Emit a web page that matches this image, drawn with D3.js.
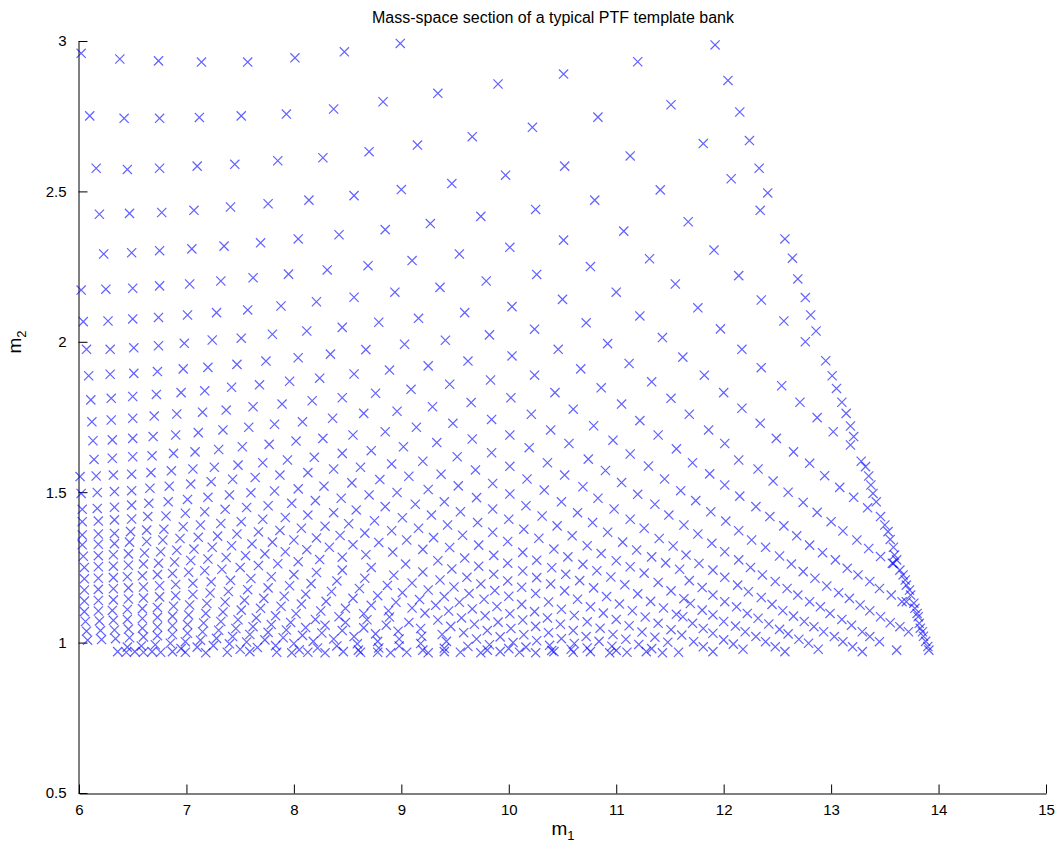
<!DOCTYPE html>
<html>
<head>
<meta charset="utf-8">
<script src="https://cdn.jsdelivr.net/npm/d3@7"></script>
<style>
  html, body { margin: 0; padding: 0; background: #ffffff; }
  svg text { font-family: "Liberation Sans", Arial, sans-serif; fill: #000; }
</style>
</head>
<body>
<svg id="chart" width="1056" height="852"></svg>
<script>
// Template bank in (m1, m2) mass space; each row is one line of the placement lattice.
const titleText = "Mass-space section of a typical PTF template bank";
const xTickValues = [6, 7, 8, 9, 10, 11, 12, 13, 14, 15];
const yTickValues = [0.5, 1, 1.5, 2, 2.5, 3];

// Rows that start at the left edge (m1 = 6), from the top down.
const upperRows = [
  [[6.02,2.959],[6.38,2.940],[6.74,2.934],[7.14,2.930],[7.57,2.930],[8.01,2.944],[8.47,2.964],[8.99,2.992]],
  [[6.10,2.751],[6.42,2.743],[6.75,2.743],[7.12,2.746],[7.51,2.751],[7.93,2.757],[8.37,2.774],[8.83,2.798],[9.34,2.826],[9.90,2.857],[10.51,2.890],[11.20,2.931],[11.92,2.987]],
  [[6.16,2.577],[6.45,2.573],[6.75,2.577],[7.10,2.584],[7.45,2.590],[7.85,2.602],[8.27,2.612],[8.70,2.632],[9.15,2.654],[9.66,2.682],[10.22,2.713],[10.83,2.747],[11.51,2.788],[12.04,2.869]],
  [[6.19,2.424],[6.47,2.427],[6.77,2.430],[7.07,2.437],[7.41,2.448],[7.76,2.459],[8.14,2.471],[8.56,2.486],[9.00,2.506],[9.47,2.526],[9.97,2.554],[10.52,2.584],[11.13,2.618],[11.81,2.659]],
  [[6.23,2.292],[6.49,2.296],[6.75,2.303],[7.05,2.309],[7.35,2.318],[7.69,2.329],[8.04,2.342],[8.42,2.356],[8.85,2.373],[9.27,2.393],[9.74,2.417],[10.25,2.440],[10.80,2.471],[11.41,2.505],[12.07,2.542]],
  [[6.02,2.172],[6.25,2.175],[6.50,2.178],[6.75,2.186],[7.03,2.192],[7.32,2.202],[7.62,2.213],[7.95,2.225],[8.31,2.239],[8.69,2.253],[9.10,2.270],[9.54,2.292],[10.01,2.314],[10.51,2.338],[11.07,2.368],[11.67,2.399],[12.34,2.437]],
  [[6.04,2.067],[6.27,2.069],[6.50,2.076],[6.74,2.081],[7.01,2.089],[7.28,2.097],[7.57,2.106],[7.88,2.119],[8.21,2.133],[8.56,2.148],[8.94,2.165],[9.36,2.181],[9.79,2.202],[10.26,2.224],[10.76,2.250],[11.31,2.276],[11.91,2.305]],
  [[6.07,1.975],[6.29,1.975],[6.51,1.980],[6.74,1.987],[6.98,1.995],[7.24,2.006],[7.51,2.012],[7.80,2.025],[8.12,2.036],[8.45,2.048],[8.79,2.065],[9.16,2.078],[9.59,2.097],[10.03,2.117],[10.50,2.141],[11.00,2.165],[11.55,2.192],[12.14,2.220]],
  [[6.09,1.887],[6.29,1.892],[6.51,1.895],[6.73,1.901],[6.97,1.910],[7.20,1.915],[7.47,1.925],[7.74,1.936],[8.04,1.947],[8.34,1.959],[8.67,1.974],[9.03,1.992],[9.41,2.005],[9.82,2.023],[10.24,2.042],[10.72,2.063],[11.22,2.086],[11.76,2.113],[12.35,2.139]],
  [[6.11,1.807],[6.30,1.812],[6.50,1.818],[6.72,1.825],[6.95,1.831],[7.17,1.837],[7.42,1.849],[7.68,1.857],[7.96,1.869],[8.24,1.879],[8.56,1.893],[8.89,1.906],[9.25,1.920],[9.62,1.936],[10.03,1.953],[10.46,1.975],[10.92,1.994],[11.43,2.014],[11.97,2.043],[12.56,2.069]],
  [[6.12,1.734],[6.30,1.740],[6.50,1.746],[6.70,1.753],[6.91,1.760],[7.15,1.766],[7.37,1.773],[7.62,1.784],[7.89,1.793],[8.17,1.804],[8.45,1.814],[8.76,1.829],[9.09,1.842],[9.45,1.859],[9.83,1.873],[10.24,1.889],[10.67,1.910],[11.12,1.928],[11.62,1.949],[12.17,1.975],[12.76,2.000]],
  [[6.13,1.671],[6.31,1.674],[6.50,1.679],[6.69,1.685],[6.90,1.690],[7.11,1.698],[7.34,1.707],[7.58,1.716],[7.82,1.726],[8.08,1.734],[8.36,1.746],[8.65,1.762],[8.96,1.769],[9.29,1.784],[9.65,1.798],[10.02,1.814],[10.43,1.831],[10.86,1.847],[11.33,1.867],[11.82,1.889],[12.35,1.914],[12.95,1.937]],
  [[6.14,1.609],[6.31,1.613],[6.50,1.618],[6.68,1.621],[6.88,1.629],[7.08,1.634],[7.30,1.642],[7.52,1.651],[7.77,1.659],[8.02,1.670],[8.27,1.679],[8.55,1.690],[8.85,1.701],[9.14,1.716],[9.48,1.729],[9.84,1.742],[10.21,1.759],[10.60,1.776],[11.05,1.793],[11.51,1.812],[12.00,1.831],[12.54,1.854]],
  [[6.01,1.552],[6.16,1.554],[6.32,1.557],[6.49,1.560],[6.67,1.565],[6.86,1.571],[7.06,1.577],[7.26,1.583],[7.48,1.590],[7.71,1.598],[7.94,1.607],[8.19,1.616],[8.45,1.629],[8.72,1.638],[9.02,1.651],[9.33,1.665],[9.66,1.677],[10.01,1.690],[10.39,1.707],[10.79,1.721],[11.22,1.738],[11.68,1.759],[12.17,1.779],[12.71,1.799]]
];

const middleRows = [
  [[6.02,1.496],[6.17,1.499],[6.33,1.502],[6.49,1.505],[6.66,1.513],[6.84,1.520],[7.04,1.527],[7.23,1.535],[7.43,1.543],[7.64,1.549],[7.87,1.557],[8.13,1.565],[8.37,1.577],[8.62,1.583],[8.91,1.594],[9.20,1.603],[9.52,1.618],[9.84,1.631],[10.19,1.648],[10.56,1.662],[10.97,1.673],[11.39,1.690],[11.86,1.707],[12.34,1.729],[12.87,1.748]],
  [[6.03,1.443],[6.17,1.446],[6.33,1.450],[6.49,1.457],[6.65,1.463],[6.83,1.468],[7.01,1.476],[7.20,1.483],[7.40,1.491],[7.60,1.498],[7.82,1.504],[8.04,1.511],[8.28,1.520],[8.54,1.531],[8.80,1.542],[9.07,1.553],[9.37,1.560],[9.69,1.574],[10.01,1.586],[10.36,1.598],[10.74,1.610],[11.13,1.627],[11.56,1.644],[12.01,1.662],[12.49,1.679],[13.02,1.701]],
  [[6.03,1.402],[6.18,1.404],[6.33,1.408],[6.49,1.411],[6.64,1.419],[6.81,1.421],[6.99,1.430],[7.17,1.435],[7.36,1.443],[7.56,1.449],[7.76,1.455],[7.98,1.463],[8.20,1.472],[8.44,1.480],[8.70,1.491],[8.96,1.499],[9.25,1.509],[9.53,1.521],[9.85,1.529],[10.17,1.544],[10.52,1.557],[10.90,1.572],[11.30,1.587],[11.71,1.598],[12.14,1.607],[12.65,1.634],[13.18,1.657]],
  [[6.03,1.358],[6.18,1.361],[6.33,1.363],[6.48,1.369],[6.63,1.374],[6.79,1.377],[6.97,1.385],[7.13,1.391],[7.32,1.396],[7.51,1.402],[7.71,1.410],[7.92,1.416],[8.13,1.424],[8.37,1.432],[8.58,1.441],[8.85,1.452],[9.13,1.460],[9.40,1.468],[9.70,1.482],[10.01,1.494],[10.33,1.507],[10.69,1.518],[11.05,1.532],[11.45,1.544],[11.87,1.561],[12.32,1.577],[12.80,1.596]],
  [[6.03,1.325],[6.18,1.327],[6.33,1.329],[6.47,1.334],[6.63,1.336],[6.78,1.341],[6.94,1.346],[7.11,1.350],[7.29,1.354],[7.47,1.361],[7.67,1.368],[7.87,1.373],[8.07,1.380],[8.29,1.387],[8.51,1.395],[8.75,1.405],[9.01,1.415],[9.28,1.424],[9.55,1.435],[9.85,1.444],[10.16,1.455],[10.49,1.468],[10.83,1.480],[11.20,1.493],[11.60,1.505],[12.01,1.524],[12.46,1.537],[12.94,1.555]],
  [[6.04,1.287],[6.18,1.289],[6.32,1.292],[6.46,1.295],[6.61,1.298],[6.76,1.302],[6.91,1.307],[7.07,1.311],[7.24,1.317],[7.42,1.322],[7.61,1.328],[7.80,1.334],[8.00,1.341],[8.21,1.348],[8.43,1.356],[8.66,1.364],[8.91,1.372],[9.16,1.380],[9.43,1.391],[9.71,1.399],[10.00,1.410],[10.31,1.421],[10.64,1.432],[10.98,1.444],[11.36,1.460],[11.74,1.472],[12.15,1.487],[12.60,1.500],[13.08,1.516]],
  [[6.05,1.250],[6.18,1.252],[6.32,1.254],[6.46,1.257],[6.60,1.261],[6.74,1.264],[6.89,1.268],[7.04,1.273],[7.20,1.278],[7.37,1.283],[7.55,1.289],[7.73,1.295],[7.92,1.302],[8.12,1.309],[8.33,1.317],[8.55,1.325],[8.79,1.333],[9.05,1.341],[9.30,1.349],[9.57,1.357],[9.85,1.367],[10.14,1.377],[10.45,1.388],[10.78,1.399],[11.13,1.410],[11.49,1.424],[11.88,1.435],[12.30,1.452],[12.74,1.466],[13.21,1.483]],
  [[6.05,1.212],[6.18,1.214],[6.32,1.216],[6.45,1.219],[6.59,1.222],[6.73,1.226],[6.87,1.230],[7.02,1.234],[7.17,1.239],[7.33,1.244],[7.50,1.250],[7.67,1.256],[7.85,1.262],[8.04,1.269],[8.24,1.276],[8.45,1.284],[8.67,1.292],[8.92,1.301],[9.20,1.310],[9.45,1.316],[9.72,1.324],[9.99,1.336],[10.28,1.347],[10.59,1.355],[10.92,1.367],[11.26,1.380],[11.63,1.391],[12.02,1.404],[12.43,1.419],[12.87,1.433]]
];

const lowerRows = [
  [[6.05,1.175],[6.18,1.177],[6.32,1.179],[6.46,1.182],[6.60,1.185],[6.75,1.189],[6.90,1.193],[7.06,1.197],[7.23,1.202],[7.41,1.207],[7.60,1.213],[7.79,1.219],[8.00,1.226],[8.21,1.233],[8.45,1.241],[8.72,1.250],[9.04,1.261],[9.34,1.272],[9.59,1.281],[9.86,1.290],[10.13,1.300],[10.42,1.311],[10.73,1.322],[11.06,1.334],[11.40,1.346]],
  [[6.05,1.138],[6.18,1.140],[6.32,1.142],[6.46,1.145],[6.60,1.148],[6.75,1.152],[6.90,1.156],[7.06,1.160],[7.22,1.165],[7.39,1.170],[7.57,1.176],[7.76,1.182],[7.96,1.189],[8.16,1.196],[8.40,1.205],[8.66,1.214],[8.93,1.224],[9.20,1.235],[9.47,1.245],[9.72,1.254],[9.99,1.264],[10.26,1.274],[10.55,1.285],[10.86,1.296],[11.19,1.308],[11.53,1.321]],
  [[6.05,1.103],[6.18,1.105],[6.31,1.107],[6.45,1.110],[6.59,1.113],[6.73,1.117],[6.88,1.121],[7.03,1.125],[7.19,1.130],[7.36,1.135],[7.54,1.141],[7.72,1.147],[7.91,1.154],[8.11,1.161],[8.35,1.170],[8.61,1.180],[8.87,1.190],[9.10,1.198],[9.36,1.208],[9.61,1.217],[9.86,1.227],[10.13,1.238],[10.40,1.249],[10.69,1.260],[11.00,1.272],[11.33,1.285]],
  [[6.06,1.070],[6.19,1.072],[6.32,1.074],[6.45,1.077],[6.59,1.080],[6.73,1.084],[6.87,1.088],[7.02,1.092],[7.18,1.097],[7.34,1.102],[7.51,1.108],[7.69,1.114],[7.88,1.121],[8.07,1.128],[8.30,1.137],[8.55,1.147],[8.78,1.156],[9.01,1.166],[9.25,1.175],[9.49,1.185],[9.74,1.195],[9.99,1.205],[10.26,1.216],[10.53,1.227],[10.82,1.239],[11.13,1.252],[11.46,1.265]],
  [[6.07,1.038],[6.20,1.040],[6.33,1.042],[6.46,1.045],[6.59,1.048],[6.73,1.052],[6.87,1.056],[7.01,1.060],[7.16,1.065],[7.32,1.070],[7.48,1.076],[7.65,1.082],[7.83,1.089],[8.02,1.096],[8.25,1.105],[8.48,1.114],[8.72,1.124],[8.95,1.134],[9.17,1.143],[9.40,1.153],[9.63,1.163],[9.87,1.173],[10.12,1.184],[10.39,1.195],[10.66,1.206],[10.95,1.218],[11.26,1.231],[11.59,1.244]],
  [[6.08,1.008],[6.21,1.010],[6.34,1.013],[6.47,1.016],[6.60,1.019],[6.73,1.023],[6.87,1.027],[7.01,1.031],[7.15,1.036],[7.30,1.041],[7.46,1.047],[7.62,1.053],[7.79,1.060],[7.97,1.067],[8.20,1.077],[8.42,1.086],[8.65,1.096],[8.88,1.106],[9.10,1.115],[9.32,1.124],[9.54,1.134],[9.77,1.144],[10.00,1.154],[10.25,1.163],[10.52,1.172],[10.79,1.182],[11.08,1.192],[11.39,1.200]]
];

// Rows that rise from the m2 floor.
const floorRows = [
  [[6.45,0.985],[6.58,0.989],[6.71,0.993],[6.85,0.998],[6.99,1.003],[7.13,1.008],[7.28,1.014],[7.43,1.020],[7.59,1.027],[7.76,1.034],[7.93,1.042],[8.11,1.050],[8.29,1.058],[8.48,1.067],[8.68,1.076],[8.89,1.085],[9.22,1.098],[9.44,1.105],[9.66,1.112],[9.89,1.120],[10.12,1.127],[10.37,1.135],[10.64,1.144],[10.91,1.153],[11.20,1.162],[11.51,1.172]],
  [[6.95,0.980],[7.10,0.985],[7.25,0.990],[7.40,0.996],[7.56,1.002],[7.73,1.009],[7.90,1.016],[8.08,1.024],[8.26,1.032],[8.45,1.040],[8.65,1.049],[8.86,1.058],[9.07,1.067],[9.34,1.075],[9.56,1.082],[9.78,1.089],[10.01,1.096],[10.24,1.103],[10.49,1.111],[10.76,1.119],[11.03,1.128],[11.32,1.137],[11.63,1.146]],
  [[7.50,0.978],[7.66,0.984],[7.83,0.990],[8.00,0.997],[8.18,1.004],[8.37,1.012],[8.56,1.020],[8.76,1.029],[8.97,1.038],[9.18,1.047],[9.46,1.054],[9.68,1.061],[9.90,1.068],[10.13,1.075],[10.36,1.082],[10.61,1.090],[10.88,1.098],[11.15,1.106],[11.44,1.115]],
  [[8.05,0.976],[8.22,0.982],[8.40,0.989],[8.59,0.996],[8.78,1.004],[8.98,1.012],[9.19,1.021],[9.38,1.027],[9.58,1.033],[9.80,1.040],[10.02,1.047],[10.25,1.054],[10.48,1.061],[10.73,1.069],[11.00,1.077],[11.27,1.085],[11.56,1.094]],
  [[8.60,0.975],[8.79,0.982],[8.98,0.989],[9.18,0.997],[9.42,1.004],[9.70,1.012],[9.92,1.019],[10.14,1.026],[10.37,1.033],[10.60,1.040],[10.85,1.048],[11.12,1.056],[11.39,1.064]],
  [[9.20,0.975],[9.40,0.981],[9.62,0.987],[9.82,0.993],[10.04,1.000],[10.26,1.006],[10.49,1.013],[10.72,1.020],[10.97,1.027],[11.24,1.035],[11.51,1.043]],
  [[9.80,0.975],[10.00,0.980],[10.16,0.985],[10.38,0.991],[10.61,0.997],[10.84,1.004],[11.09,1.011],[11.36,1.018]],
  [[10.40,0.974],[10.58,0.978],[10.73,0.982],[10.96,0.988],[11.21,0.994],[11.48,1.001]],
  [[11.00,0.974],[11.33,0.980]]
];

// Slanted columns near the high-mass edge, running down towards the floor.
const edgeColumns = [
  [[11.76,1.361],[11.89,1.330],[12.01,1.302],[12.14,1.275],[12.25,1.250],[12.36,1.225],[12.48,1.203],[12.59,1.180],[12.69,1.158],[12.80,1.136],[12.90,1.119],[12.99,1.097],[13.10,1.077],[13.19,1.058],[13.29,1.036],[13.36,1.020],[13.45,1.003]],
  [[11.65,1.291],[11.77,1.263],[11.90,1.241],[12.01,1.217],[12.13,1.191],[12.23,1.169],[12.35,1.150],[12.45,1.127],[12.55,1.106],[12.65,1.088],[12.75,1.070],[12.84,1.053],[12.93,1.036],[13.03,1.020],[13.11,1.003],[13.20,0.986],[13.29,0.970]],
  [[11.68,1.206],[11.80,1.183],[11.90,1.158],[12.01,1.136],[12.12,1.119],[12.22,1.097],[12.32,1.081],[12.42,1.062],[12.52,1.044],[12.60,1.029],[12.70,1.011],[12.79,0.998],[12.88,0.978]],
  [[11.69,1.130],[11.80,1.108],[11.90,1.092],[12.00,1.070],[12.11,1.055],[12.20,1.036],[12.30,1.020],[12.39,1.003],[12.48,0.986],[12.57,0.970]],
  [[11.62,1.086],[11.71,1.064],[11.81,1.047],[11.90,1.031],[12.00,1.009],[12.09,0.995],[12.18,0.978]],
  [[11.61,1.025],[11.72,1.003],[11.81,0.986],[11.90,0.970]],
  [[12.14,1.372],[12.26,1.341],[12.39,1.317],[12.52,1.288],[12.63,1.261],[12.74,1.236],[12.85,1.214],[12.96,1.188],[13.07,1.166],[13.17,1.147],[13.27,1.125],[13.36,1.106],[13.46,1.086],[13.55,1.066],[13.64,1.053],[13.72,1.036]],
  [[12.56,1.388],[12.68,1.355],[12.80,1.324],[12.92,1.299],[13.04,1.275],[13.15,1.247],[13.25,1.225],[13.36,1.203],[13.45,1.180],[13.56,1.158],[13.66,1.136]],
  [[13.00,1.402],[13.11,1.371],[13.24,1.341],[13.35,1.313],[13.46,1.286],[13.58,1.263]]
];

// Templates on the m2 floor.
const floorPoints = [
  [6.36,0.970],[6.44,0.968],[6.52,0.970],[6.60,0.968],[6.68,0.970],[6.76,0.968],[6.87,0.970],[6.99,0.968],[7.18,0.966],[7.38,0.968],
  [7.59,0.970],[7.84,0.968],[7.98,0.966],[8.13,0.968],[8.29,0.966],[8.46,0.970],[8.62,0.968],[8.78,0.968],[8.90,0.966],[9.05,0.968],
  [9.25,0.966],[9.40,0.970],[9.55,0.968],[9.74,0.966],[9.92,0.970],[10.10,0.968],[10.25,0.966],[10.42,0.970],[10.60,0.968],[10.76,0.970],
  [10.94,0.966],[11.10,0.968],[11.28,0.970],[11.43,0.966],[11.58,0.968],[13.61,0.975]
];

// Templates on the high-mass edge.
const edgePoints = [
  [12.15,2.764],[12.24,2.669],[12.33,2.577],[12.41,2.495],[12.57,2.342],[12.64,2.278],[12.69,2.209],[12.76,2.147],[12.81,2.089],[12.86,2.036],
  [13.01,1.887],[13.05,1.845],[13.10,1.799],[13.14,1.762],[13.18,1.720],[13.21,1.685],[13.28,1.603],[13.32,1.585],[13.35,1.554],[13.37,1.524],
  [13.39,1.496],[13.42,1.468],[13.34,1.448],[13.46,1.419],[13.50,1.391],[13.53,1.369],[13.55,1.343],[13.58,1.317],[13.59,1.291],[13.61,1.275],
  [13.57,1.264],[13.64,1.241],[13.67,1.225],[13.69,1.208],[13.70,1.191],[13.73,1.175],[13.74,1.158],[13.70,1.136],[13.77,1.131],[13.78,1.114],
  [13.80,1.097],[13.81,1.086],[13.82,1.064],[13.83,1.048],[13.85,1.036],[13.86,1.021],[13.88,1.004],[13.90,0.987],[13.91,0.975]
];

const svg = d3.select("#chart");
const x = d3.scaleLinear().domain([6, 15]).range([79, 1046]);
const y = d3.scaleLinear().domain([0.5, 3]).range([793, 41]);

const templates = [].concat(
  upperRows.flat(), middleRows.flat(), lowerRows.flat(), floorRows.flat(),
  edgeColumns.flat(), floorPoints, edgePoints
);

// Axes with inward ticks.
const xAxis = d3.axisBottom(x).tickValues(xTickValues).tickFormat(d3.format("d"))
  .tickSizeInner(-9).tickSizeOuter(0).tickPadding(11);
const yAxis = d3.axisLeft(y).tickValues(yTickValues).tickFormat(d => String(d))
  .tickSizeInner(-9).tickSizeOuter(0).tickPadding(12);

const gx = svg.append("g").attr("transform", "translate(0,793.5)").call(xAxis);
const gy = svg.append("g").attr("transform", "translate(78.5,0)").call(yAxis);
[gx, gy].forEach(g => {
  g.select(".domain").attr("stroke", "#000").attr("stroke-width", 1);
  g.selectAll(".tick line").attr("stroke", "#000").attr("stroke-width", 1);
  g.selectAll(".tick text").attr("font-size", 15).attr("font-family", "Liberation Sans, Arial, sans-serif").attr("fill", "#000");
});

// Template markers.
const s = 4.6;
svg.append("g")
  .selectAll("path")
  .data(templates)
  .join("path")
  .attr("transform", d => `translate(${x(d[0])},${y(d[1])})`)
  .attr("d", `M${-s},${-s}L${s},${s}M${-s},${s}L${s},${-s}`)
  .attr("fill", "none")
  .attr("stroke", "#0000ff")
  .attr("stroke-opacity", 0.62)
  .attr("stroke-width", 1.2);

// Title and axis labels.
svg.append("text").attr("x", 553).attr("y", 23).attr("text-anchor", "middle")
  .attr("font-size", 16).text(titleText);

const xl = svg.append("text").attr("x", 563).attr("y", 835).attr("text-anchor", "middle").attr("font-size", 19);
xl.append("tspan").text("m");
xl.append("tspan").attr("font-size", 13).attr("dy", 5).text("1");

const yl = svg.append("text").attr("transform", "translate(21,342) rotate(-90)").attr("text-anchor", "middle").attr("font-size", 19);
yl.append("tspan").text("m");
yl.append("tspan").attr("font-size", 13).attr("dy", 5).text("2");
</script>
</body>
</html>
